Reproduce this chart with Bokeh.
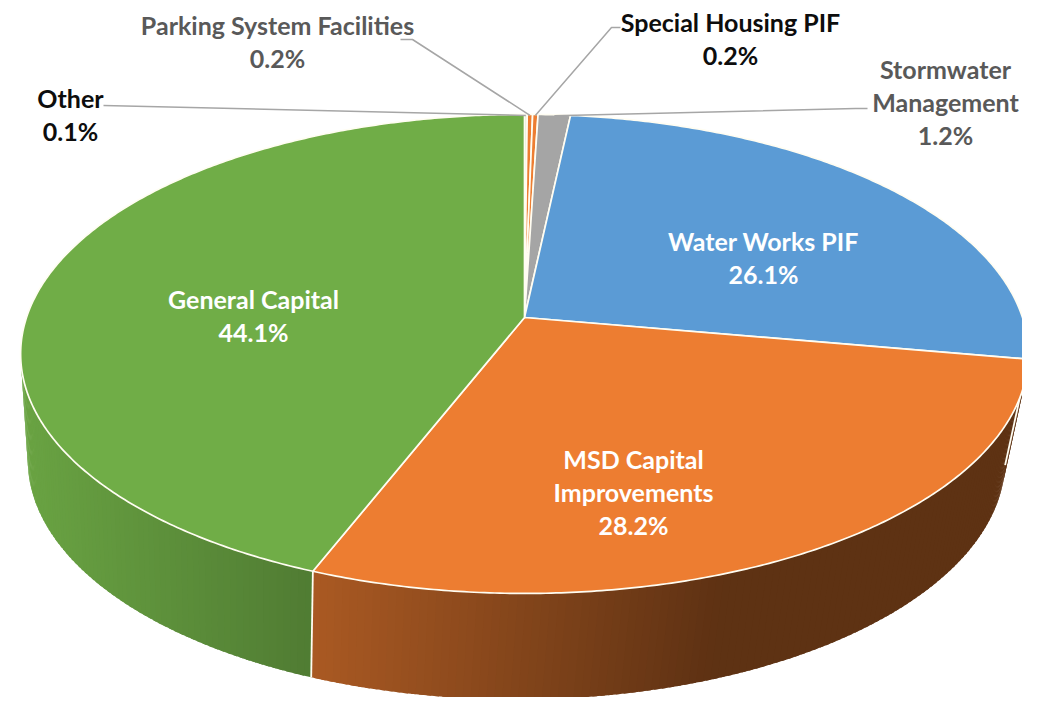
import math
import numpy as np
from bokeh.plotting import figure
from bokeh.models import Range1d
from bokeh.core.properties import value
from bokeh.embed import file_html
from bokeh.resources import INLINE

# ---------------- data ----------------
categories = ["Other", "Parking System Facilities", "Special Housing PIF",
              "Stormwater Management", "Water Works PIF",
              "MSD Capital Improvements", "General Capital"]
shares = [0.1, 0.2, 0.2, 1.2, 26.1, 28.2, 44.1]
pct_labels = ["0.1%", "0.2%", "0.2%", "1.2%", "26.1%", "28.2%", "44.1%"]
colors = ["#D5E6C8", "#ED7D31", "#ED7D31", "#A5A5A5", "#5B9BD5", "#ED7D31", "#70AD47"]

# label layout
label_lines = [["Other"], ["Parking System Facilities"], ["Special Housing PIF"],
               ["Stormwater", "Management"], ["Water Works PIF"],
               ["MSD Capital", "Improvements"], ["General Capital"]]
label_xy = [(70, 97), (277, 24), (730, 21), (945, 68), (763, 240), (633, 458), (253, 298)]
label_color = ["#0D0D0D", "#595959", "#0D0D0D", "#595959", "white", "white", "white"]
leader_start = [[(103, 105)], [(400, 39), (412, 39)], [(620, 27), (611, 27)],
                [(867, 108), (855, 108)], None, None, None]

# ---------------- geometry of the 3-D pie ----------------
CX, CY, A, B, K = 524.0, 317.0, 498.0, 234.0, 0.152
DEPTH, XS, XC_B = 106.0, 0.97, 516.0
LINE_GAP = 33


def top_pt(th):
    t = np.radians(th)
    den = 1 + K * np.cos(t)
    return CX + A * np.sin(t) / den, CY - B * np.cos(t) / den


def bot_pt(th):
    x, y = top_pt(th)
    return XC_B + XS * (x - CX), y + DEPTH


def shade(hexcol, f):
    r, g, b = int(hexcol[1:3], 16), int(hexcol[3:5], 16), int(hexcol[5:7], 16)
    return "#%02x%02x%02x" % (int(r * f), int(g * f), int(b * f))


total = sum(shares)
cum = np.concatenate([[0.0], np.cumsum(shares)]) / total * 360.0

p = figure(width=1022, height=697, x_range=Range1d(0, 1022), y_range=Range1d(697, 0),
           output_backend="svg", toolbar_location=None, min_border=0,
           x_axis_type=None, y_axis_type=None, outline_line_color=None,
           background_fill_color="white", border_fill_color="white")
p.grid.visible = False

# visible front arc of the side wall
samp = np.arange(0, 360, 0.25)
sx, _ = top_pt(samp)
th_r = samp[samp < 180][np.argmax(sx[samp < 180])]
th_l = samp[samp >= 180][np.argmin(sx[samp >= 180])]

qx, qy, qc = [], [], []
for i in range(len(shares)):
    lo, hi = max(cum[i], th_r), min(cum[i + 1], th_l)
    if lo >= hi:
        continue
    n = int(math.ceil((hi - lo) / 0.8))
    ts = np.linspace(lo, hi, n + 1)
    step = ts[1] - ts[0]
    for j in range(n):
        a0 = ts[j]
        a1 = min(hi, ts[j + 1] + 0.6 * step)   # overlap neighbour to hide seams
        x0, y0 = top_pt(a0)
        x1, y1 = top_pt(a1)
        bx0, by0 = bot_pt(a0)
        bx1, by1 = bot_pt(a1)
        xm = 0.5 * (x0 + x1)
        f = min(1.0, max(0.40, 0.95 - 0.00078 * (xm - 15)))
        qx.append([x0, x1, bx1, bx0])
        qy.append([y0, y1, by1, by0])
        qc.append(shade(colors[i], f))
p.patches(qx, qy, fill_color=qc, line_color=None)

# white edges between side segments
for b in cum[1:-1]:
    if th_r < b < th_l:
        x0, y0 = top_pt(b)
        x1, y1 = bot_pt(b)
        p.line([x0, x1], [y0, y1], line_color="#FFFDF2", line_width=1.8)

# top faces
fx, fy = [], []
for i in range(len(shares)):
    ts = np.linspace(cum[i], cum[i + 1], max(3, int((cum[i + 1] - cum[i]) / 0.5) + 2))
    ax, ay = top_pt(ts)
    fx.append([CX] + list(ax))
    fy.append([CY] + list(ay))
p.patches(fx, fy, fill_color=colors, line_color="#FFFDF2", line_width=1.7,
          line_join="round")

# leader lines
for i in range(len(shares)):
    if leader_start[i] is None:
        continue
    mid = 0.5 * (cum[i] + cum[i + 1])
    ax, ay = top_pt(mid)
    pts = leader_start[i] + [(float(ax), float(ay) + 1)]
    p.line([q[0] for q in pts], [q[1] for q in pts], line_color="#A6A6A6", line_width=1.5)

# labels
tx, ty, tt, tc = [], [], [], []
for i in range(len(shares)):
    x0, y0 = label_xy[i]
    lines = label_lines[i] + [pct_labels[i]]
    for j, s in enumerate(lines):
        tx.append(x0)
        ty.append(y0 + j * LINE_GAP)
        tt.append(s)
        tc.append(label_color[i])
p.text(tx, ty, text=tt, text_color=tc, text_align="center", text_baseline="middle",
       text_font=value("Lato"), text_font_style="bold", text_font_size="25px")

open("out.html", "w").write(file_html(p, INLINE))
